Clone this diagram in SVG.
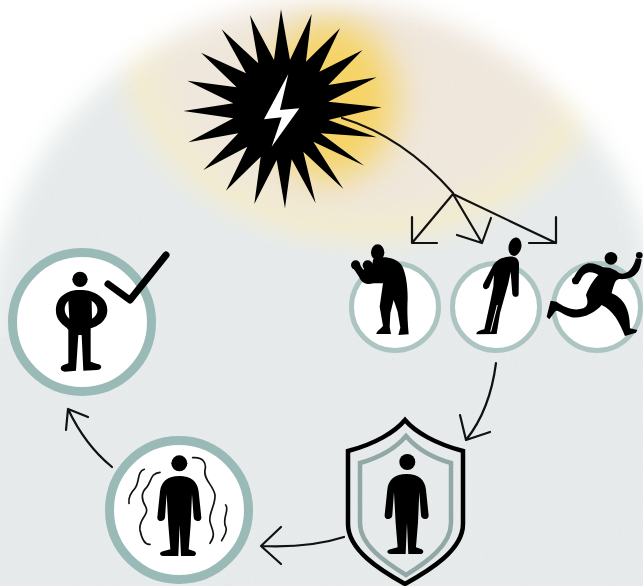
<svg xmlns="http://www.w3.org/2000/svg" width="643" height="586" viewBox="0 0 643 586">
<style>
.ink{fill:#000}
.line{fill:none;stroke:#111;stroke-width:2.2;stroke-linecap:round;stroke-linejoin:round}
.ring{fill:#fff;stroke:#9abab7}
.small{stroke:#acc5c2}
.wave{fill:none;stroke:#111;stroke-width:5;stroke-linecap:round}
</style>
<defs>
<filter id="b12" x="-30%" y="-30%" width="160%" height="160%"><feGaussianBlur stdDeviation="12"/></filter>
<filter id="b20" x="-40%" y="-40%" width="180%" height="180%"><feGaussianBlur stdDeviation="18"/></filter>
<filter id="soft" x="-5%" y="-5%" width="110%" height="110%"><feGaussianBlur stdDeviation=".6"/></filter>
<filter id="noise" x="0" y="0" width="100%" height="100%"><feTurbulence type="fractalNoise" baseFrequency=".6" numOctaves="2" seed="4"/><feColorMatrix values="0 0 0 0 .5 0 0 0 0 .52 0 0 0 0 .52 0 0 0 .14 -.03"/></filter>
<mask id="disc"><circle cx="325" cy="337" r="336" fill="#fff" filter="url(#b12)"/><rect x="-20" y="337" width="690" height="260" fill="#fff"/></mask>
<radialGradient id="beige" cx="50%" cy="50%" r="50%"><stop offset="0" stop-color="#f1e8de"/><stop offset=".7" stop-color="#f1e9dd"/><stop offset=".86" stop-color="#f4edd2"/><stop offset="1" stop-color="#f2eed8" stop-opacity="0"/></radialGradient>
<path id="stand" d="M253 198C288 198 308 215 311 245L319 322C320 337 297 337 296 322L291 252L287 345L281 418L298 424C306 428 304 438 294 438L258 438L254 345L250 438L205 438C192 438 192 426 204 424L226 418L220 345L215 252L210 322C209 337 186 337 187 322L195 245C198 215 218 198 253 198Z"/>
</defs>
<rect width="643" height="586" fill="#fff"/>
<g id="background" mask="url(#disc)">
<rect width="643" height="586" fill="#e8ecec"/>
<ellipse cx="365" cy="45" rx="265" ry="215" fill="url(#beige)"/>
<ellipse cx="330" cy="100" rx="66" ry="80" fill="#f8d462" filter="url(#b20)"/>
<rect width="643" height="586" filter="url(#noise)"/>
</g>
<g id="burst" filter="url(#soft)">
<polygon class="ink" transform="translate(170 0) scale(.3333)" points="333,28 360,180 425,42 408,185 510,85 448,215 578,150 475,255 620,232 475,305 635,322 475,360 620,412 452,400 583,497 430,425 520,567 400,455 437,610 365,478 345,625 320,480 253,612 272,470 168,572 232,440 100,510 205,400 55,427 190,355 40,333 190,310 52,242 200,262 93,158 228,220 155,88 265,190 240,45 312,180"/>
<polygon fill="#fff" transform="translate(170 0) scale(.3333)" points="355,222 282,358 335,352 305,440 388,325 330,330"/>
</g>
<g id="connectors">
<path class="line" d="M342 118C375 128 415 150 453 193"/>
<path class="line" d="M453 194L412 243M412 217V243H437"/>
<path class="line" d="M453 194L482 243M457 235L482 243L491 218"/>
<path class="line" d="M453 194L556 243M529 243H556V217"/>
<path class="line" d="M496 363Q490 410 466 440M460 415L466 440L490 432"/>
<path class="line" d="M344 537Q310 548 261 546M281 527L261 546L281 564"/>
<path class="line" d="M112 467Q85 445 68 409M66 430L68 409L88 417"/>
</g>
<g id="node-fight">
<circle class="ring small" cx="395" cy="307" r="43.5" stroke-width="5"/>
<g transform="translate(345 235) scale(.3333)" class="ink" filter="url(#soft)">
<ellipse cx="98" cy="52" rx="20" ry="24"/><circle cx="32" cy="90" r="14"/><circle cx="68" cy="91" r="15"/>
<path d="M85 72C110 62 150 65 168 88C182 108 188 150 188 190C186 230 188 260 191 298L160 300L166 278L158 230L146 195L136 235L134 275L138 297L94 297C94 288 108 282 114 272L104 215L114 145L85 145C65 150 50 145 42 125L20 92L40 82L55 105L60 95L80 95Z"/>
</g>
</g>
<g id="node-freeze">
<circle class="ring small" cx="496" cy="307" r="43.5" stroke-width="5"/>
<g transform="translate(340 180) scale(.3333)" class="ink" filter="url(#soft)">
<ellipse cx="525" cy="200" rx="19" ry="28" transform="rotate(12 525 200)"/>
<path d="M505 230C525 228 538 235 537 255L536 340C538 352 520 355 517 342L512 275L505 310L480 400L470 462L410 463C405 455 425 450 433 448L450 370L460 320L462 285L447 322C440 332 425 328 430 312L460 255C470 240 485 232 505 230Z"/>
<path d="M472 375L452 455" stroke="#fff" stroke-width="3" fill="none"/>
</g>
</g>
<g id="node-flight">
<circle class="ring small" cx="597" cy="307" r="43.5" stroke-width="5"/>
<g transform="translate(340 180) scale(.3333)" class="ink" filter="url(#soft)">
<circle cx="813" cy="235" r="19"/><circle cx="898" cy="226" r="10"/><circle cx="707" cy="302" r="11"/>
<path d="M790 262C810 260 825 270 840 280C860 285 878 270 888 235L905 238C900 280 885 295 845 298C830 295 825 300 815 340C850 355 870 385 870 445L892 450L888 458L855 468C840 430 820 390 785 375C765 400 720 420 690 410C670 405 650 385 645 395L628 418L620 410L632 362L650 365C670 380 700 395 730 385C745 378 745 365 738 345C745 325 760 300 775 285C755 270 730 275 722 300L712 312L697 302C705 285 720 255 745 250C760 248 775 255 790 262Z"/>
</g>
</g>
<g id="node-shield">
<path d="M405 420C395 432 375 444 348 451V524C348 550 380 570 405 584C430 570 463 550 463 524V451C436 444 415 432 405 420Z" fill="none" stroke="#000" stroke-width="4.5" stroke-linejoin="miter"/>
<path d="M406 436C395 449 378 458 360 463V523C360 545 385 562 406 575C427 562 451 545 451 523V463C433 458 417 449 406 436Z" fill="none" stroke="#92a8a6" stroke-width="4.5"/>
<g transform="translate(95 410) scale(.3333)" class="ink" filter="url(#soft)">
<circle cx="937" cy="156" r="24"/>
<use href="#stand" x="682" y="-6"/>
</g>
</g>
<g id="node-tremble">
<circle class="ring" cx="179" cy="510" r="69.5" stroke-width="9"/>
<g transform="translate(95 410) scale(.3333)">
<g class="ink" filter="url(#soft)"><circle cx="253" cy="160" r="24"/><use href="#stand"/></g>
<path class="wave" d="M148 178C125 185 135 215 120 235C105 250 100 265 102 280"/>
<path class="wave" d="M195 187C165 190 170 215 155 232C135 250 140 270 152 290C165 315 130 325 135 360C140 385 150 405 165 403"/>
<path class="wave" d="M293 143C325 140 335 160 330 180C325 210 355 225 360 255C362 285 340 310 345 335C350 360 365 370 345 400"/>
<path class="wave" d="M392 285C405 300 380 325 392 350C400 365 385 380 380 392"/>
</g>
</g>
<g id="node-recovered">
<circle class="ring" cx="82" cy="322" r="69.5" stroke-width="9"/>
<g transform="translate(0 240) scale(.3333)" class="ink" filter="url(#soft)">
<circle cx="240" cy="118" r="23"/>
<path fill-rule="evenodd" d="M240 150C215 150 205 155 190 165C165 180 160 225 180 245C190 258 205 265 205 270L205 370L190 375C178 380 180 395 195 395L228 392L235 285L245 285L250 392L290 390C308 390 308 373 292 372L272 365L272 265C290 260 322 245 322 210C322 180 300 165 275 155C260 150 250 150 240 150ZM205 182C190 197 190 222 208 236ZM275 182C298 197 298 222 276 236Z"/>
</g>
<path d="M108 284L130 300L166 255" fill="none" stroke="#000" stroke-width="7" stroke-linecap="round" stroke-linejoin="round"/>
</g>
</svg>
